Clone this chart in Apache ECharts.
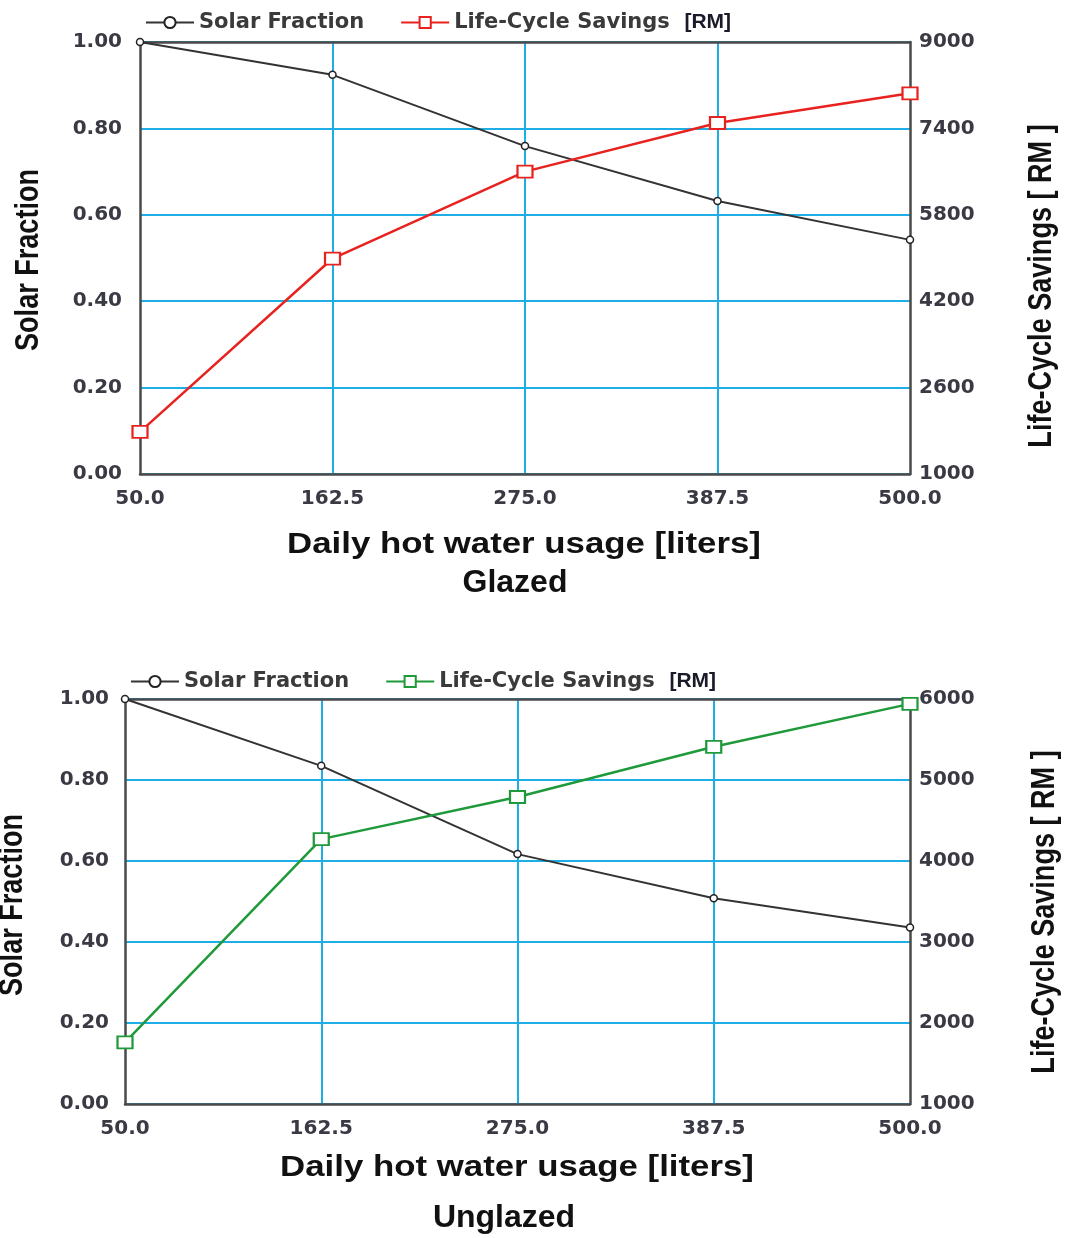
<!DOCTYPE html>
<html>
<head>
<meta charset="utf-8">
<script src="https://cdn.jsdelivr.net/npm/echarts@6/dist/echarts.min.js"></script>
<style>
  html, body { margin: 0; padding: 0; background: #fff; }
  #top { position: absolute; left: 0; top: 0; width: 1068px; height: 619px; }
  #bottom { position: absolute; left: 0; top: 619px; width: 1068px; height: 619px; }
</style>
</head>
<body>
<div id="top"></div>
<div id="bottom"></div>
<script>
// ---- data ----
const xTickLabels = ['50.0', '162.5', '275.0', '387.5', '500.0'];
const glazedSolarFraction = [1.00, 0.924, 0.759, 0.632, 0.542];
const glazedLifeCycleSavings = [1780, 4990, 6600, 7500, 8050];
const unglazedSolarFraction = [1.00, 0.835, 0.617, 0.508, 0.436];
const unglazedLifeCycleSavings = [1760, 4270, 4790, 5410, 5940];
const solarFractionAxis = [0, 1, 0.2];          // min, max, interval
const glazedSavingsAxis = [1000, 9000, 1600];
const unglazedSavingsAxis = [1000, 6000, 1000];
const seriesNames = ['Solar Fraction', 'Life-Cycle Savings [RM]'];

const CYAN = '#1eaee6';
const FRAME = '#4a4a4a';
const TICK_FONT = 'DejaVu Sans';

function makeOption(cfg) {
  const frameLine = { show: true, onZero: false, lineStyle: { color: FRAME, width: 2.5 } };
  const tickLabel = { fontFamily: TICK_FONT, fontSize: 20, fontWeight: 'bold', color: '#3a3a44' };
  return {
    animation: false,
    grid: { left: cfg.grid.left, right: cfg.grid.right, top: cfg.grid.top, height: cfg.grid.height, containLabel: false },
    legend: {
      left: cfg.legendLeft, top: cfg.legendTop,
      itemWidth: 48, itemHeight: 14, itemGap: 36,
      data: seriesNames,
      formatter: function (n) { return n.replace('[RM]', ' {rm|[RM]}'); },
      textStyle: {
        fontFamily: TICK_FONT, fontSize: 21, fontWeight: 'bold', color: '#3a3a3a',
        rich: { rm: { fontFamily: 'Liberation Sans', fontWeight: 'bold', fontSize: 21, color: '#1a1a2a' } }
      }
    },
    xAxis: [
      {
        type: 'category', data: xTickLabels, boundaryGap: false, position: 'bottom', z: 4,
        axisLine: frameLine, axisTick: { show: false },
        axisLabel: Object.assign({ margin: 15 }, tickLabel),
        splitLine: { show: true, interval: function (i) { return i > 0 && i < xTickLabels.length - 1; },
                     lineStyle: { color: CYAN, width: 2 } }
      },
      {
        type: 'category', data: xTickLabels, boundaryGap: false, position: 'top', z: 4,
        axisLine: frameLine, axisTick: { show: false }, axisLabel: { show: false }, splitLine: { show: false }
      }
    ],
    yAxis: [
      {
        type: 'value', position: 'left', z: 2,
        min: solarFractionAxis[0], max: solarFractionAxis[1], interval: solarFractionAxis[2],
        axisLine: frameLine, axisTick: { show: false },
        axisLabel: Object.assign({ margin: cfg.leftMargin, formatter: function (v) { return v.toFixed(2); } }, tickLabel),
        splitLine: { show: true, lineStyle: { color: CYAN, width: 2 } }
      },
      {
        type: 'value', position: 'right', z: 2,
        min: cfg.savingsAxis[0], max: cfg.savingsAxis[1], interval: cfg.savingsAxis[2],
        axisLine: frameLine, axisTick: { show: false },
        axisLabel: Object.assign({ margin: 9, formatter: function (v) { return String(v); } }, tickLabel),
        splitLine: { show: false }
      }
    ],
    series: [
      {
        name: seriesNames[0], type: 'line', xAxisIndex: 0, yAxisIndex: 0, z: 10,
        data: cfg.solar, symbol: 'circle', symbolSize: 7,
        itemStyle: { color: '#fff', borderColor: '#222', borderWidth: 1.5 },
        lineStyle: { color: '#333', width: 2 }
      },
      {
        name: seriesNames[1], type: 'line', xAxisIndex: 0, yAxisIndex: 1, z: 11,
        data: cfg.savings, symbol: 'rect', symbolSize: [15, 12],
        itemStyle: { color: '#fff', borderColor: cfg.color, borderWidth: 2 },
        lineStyle: { color: cfg.color, width: 2.5 }
      }
    ],
    graphic: [
      { type: 'text', x: cfg.leftTitle[0], y: cfg.leftTitle[1], rotation: Math.PI / 2, scaleX: 0.82,
        style: { text: 'Solar Fraction', font: 'bold 33px "Liberation Sans"', fill: '#111', textAlign: 'center', textVerticalAlign: 'middle' } },
      { type: 'text', x: cfg.rightTitle[0], y: cfg.rightTitle[1], rotation: Math.PI / 2, scaleX: 0.82,
        style: { text: 'Life-Cycle Savings [ RM ]', font: 'bold 33px "Liberation Sans"', fill: '#111', textAlign: 'center', textVerticalAlign: 'middle' } },
      { type: 'text', x: cfg.xTitle[0], y: cfg.xTitle[1], scaleX: 1.16,
        style: { text: 'Daily hot water usage [liters]', font: 'bold 30px "Liberation Sans"', fill: '#111', textAlign: 'center', textVerticalAlign: 'middle' } },
      { type: 'text', x: cfg.caption[0], y: cfg.caption[1],
        style: { text: cfg.captionText, font: 'bold 32px "Liberation Sans"', fill: '#111', textAlign: 'center', textVerticalAlign: 'middle' } }
    ]
  };
}

const topChart = echarts.init(document.getElementById('top'), null, { renderer: 'canvas' });
topChart.setOption(makeOption({
  grid: { left: 140, right: 158, top: 42, height: 432 },
  legendLeft: 140, legendTop: 7,
  leftMargin: 18,
  savingsAxis: glazedSavingsAxis,
  solar: glazedSolarFraction, savings: glazedLifeCycleSavings, color: '#e8231f',
  leftTitle: [29, 260], rightTitle: [1042, 286],
  xTitle: [524, 545], caption: [515, 583], captionText: 'Glazed'
}));

const bottomChart = echarts.init(document.getElementById('bottom'), null, { renderer: 'canvas' });
bottomChart.setOption(makeOption({
  grid: { left: 125, right: 158, top: 80, height: 405 },
  legendLeft: 125, legendTop: 47,
  leftMargin: 16,
  savingsAxis: unglazedSavingsAxis,
  solar: unglazedSolarFraction, savings: unglazedLifeCycleSavings, color: '#1f9a3a',
  leftTitle: [13, 286], rightTitle: [1045, 293],
  xTitle: [517, 549], caption: [504, 599], captionText: 'Unglazed'
}));
</script>
</body>
</html>
